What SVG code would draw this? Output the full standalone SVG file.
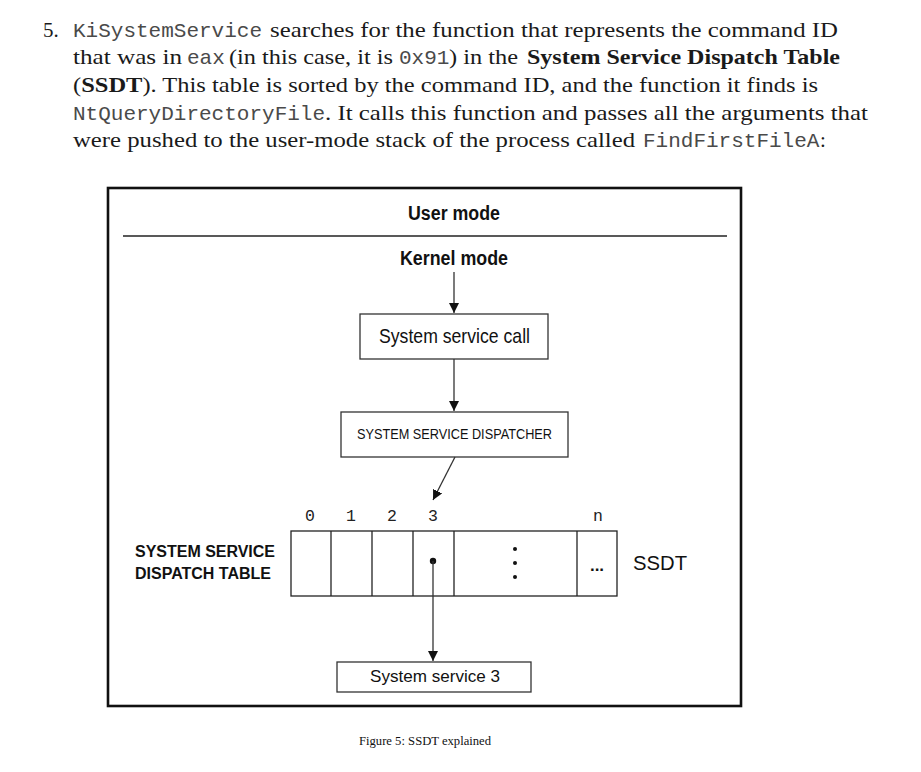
<svg xmlns="http://www.w3.org/2000/svg" width="921" height="772" viewBox="0 0 921 772">
<style>
.p{font-family:"Liberation Serif","Times New Roman",serif;font-size:21px;fill:#1a1a1a}
.m{font-family:"Liberation Mono","Courier New",monospace;font-size:21px;fill:#4a4a4a}
.b{font-weight:bold}
.d{font-family:"Liberation Sans",Arial,sans-serif;fill:#111}
.box{fill:#fff;stroke:#333;stroke-width:1.3}
.con{stroke:#333;stroke-width:1.3;fill:none}
.num{font-family:"Liberation Mono","Courier New",monospace;font-size:16.5px;fill:#222}
</style>
<defs>
<marker id="ah" markerUnits="userSpaceOnUse" markerWidth="10" markerHeight="11" refX="10" refY="5" orient="auto">
<path d="M0,0 L10,5 L0,10 Z" fill="#111"/>
</marker>
</defs>
<rect width="921" height="772" fill="#fff"/>
<g id="paragraph">
<text class="p" x="43" y="37">5.</text>
<text class="m" x="73" y="37">KiSystemService</text>
<text class="p" x="270" y="37" textLength="568" lengthAdjust="spacingAndGlyphs">searches for the function that represents the command ID</text>
<text class="p" x="73" y="64" textLength="109" lengthAdjust="spacingAndGlyphs">that was in</text>
<text class="m" x="187" y="64">eax</text>
<text class="p" x="229" y="64" textLength="164" lengthAdjust="spacingAndGlyphs">(in this case, it is</text>
<text class="m" x="399" y="64">0x91</text>
<text class="p" x="449" y="64" textLength="69" lengthAdjust="spacingAndGlyphs">) in the</text>
<text class="p b" x="527" y="64" textLength="313" lengthAdjust="spacingAndGlyphs">System Service Dispatch Table</text>
<text class="p" x="73" y="92" textLength="745" lengthAdjust="spacingAndGlyphs">(<tspan class="b">SSDT</tspan>). This table is sorted by the command ID, and the function it finds is</text>
<text class="m" x="73" y="120">NtQueryDirectoryFile</text>
<text class="p" x="325" y="120" textLength="543" lengthAdjust="spacingAndGlyphs">. It calls this function and passes all the arguments that</text>
<text class="p" x="73" y="147" textLength="562" lengthAdjust="spacingAndGlyphs">were pushed to the user-mode stack of the process called</text>
<text class="m" x="643" y="147">FindFirstFileA</text>
<text class="p" x="820" y="147">:</text>
</g>
<g id="frame">
<rect x="108" y="188" width="633" height="518" fill="none" stroke="#111" stroke-width="2.6"/>
<line x1="123" y1="236" x2="727" y2="236" stroke="#222" stroke-width="1.3"/>
</g>
<g id="user-mode">
<text class="d b" x="408" y="220" font-size="20" textLength="92" lengthAdjust="spacingAndGlyphs">User mode</text>
</g>
<g id="kernel-mode">
<text class="d b" x="400" y="265" font-size="20" textLength="108" lengthAdjust="spacingAndGlyphs">Kernel mode</text>
</g>
<g id="system-service-call">
<rect class="box" x="360" y="314" width="188" height="45"/>
<text class="d" x="379" y="343" font-size="21" textLength="151" lengthAdjust="spacingAndGlyphs">System service call</text>
</g>
<g id="dispatcher">
<rect class="box" x="341" y="412" width="227" height="45"/>
<text class="d" x="357" y="439" font-size="15" textLength="195" lengthAdjust="spacingAndGlyphs">SYSTEM SERVICE DISPATCHER</text>
</g>
<g id="ssdt-label">
<text class="d b" x="135" y="557" font-size="16" textLength="140" lengthAdjust="spacingAndGlyphs">SYSTEM SERVICE</text>
<text class="d b" x="135" y="579" font-size="16" textLength="136" lengthAdjust="spacingAndGlyphs">DISPATCH TABLE</text>
</g>
<g id="ssdt-table">
<text class="num" x="310" y="521" text-anchor="middle">0</text>
<text class="num" x="351" y="521" text-anchor="middle">1</text>
<text class="num" x="392" y="521" text-anchor="middle">2</text>
<text class="num" x="433" y="521" text-anchor="middle">3</text>
<text class="num" x="598" y="521" text-anchor="middle">n</text>
<rect x="291" y="531" width="326" height="65" fill="#fff" stroke="#222" stroke-width="1.3"/>
<g stroke="#222" stroke-width="1.3">
<line x1="331" y1="531" x2="331" y2="596"/>
<line x1="372" y1="531" x2="372" y2="596"/>
<line x1="413" y1="531" x2="413" y2="596"/>
<line x1="454" y1="531" x2="454" y2="596"/>
<line x1="577" y1="531" x2="577" y2="596"/>
</g>
<g fill="#111">
<circle cx="515" cy="549" r="2"/>
<circle cx="515" cy="563" r="2"/>
<circle cx="515" cy="577" r="2"/>
<circle cx="433" cy="561" r="3.2"/>
</g>
<text class="d b" x="597" y="571" font-size="17" text-anchor="middle">...</text>
<text class="d" x="633" y="570" font-size="20" textLength="54" lengthAdjust="spacingAndGlyphs">SSDT</text>
</g>
<g id="system-service-3">
<rect class="box" x="337" y="662" width="194" height="30"/>
<text class="d" x="370" y="682" font-size="17" textLength="130" lengthAdjust="spacingAndGlyphs">System service 3</text>
</g>
<g id="connectors">
<line class="con" x1="454" y1="272" x2="454" y2="313" marker-end="url(#ah)"/>
<line class="con" x1="454" y1="359" x2="454" y2="411" marker-end="url(#ah)"/>
<line class="con" x1="455" y1="457" x2="433" y2="500" marker-end="url(#ah)"/>
<line class="con" x1="433" y1="561" x2="433" y2="661" marker-end="url(#ah)"/>
</g>
<g id="caption">
<text x="359" y="745" font-family="Liberation Serif, Times New Roman, serif" font-size="12.5" fill="#111" textLength="132" lengthAdjust="spacingAndGlyphs">Figure 5: SSDT explained</text>
</g>
</svg>
